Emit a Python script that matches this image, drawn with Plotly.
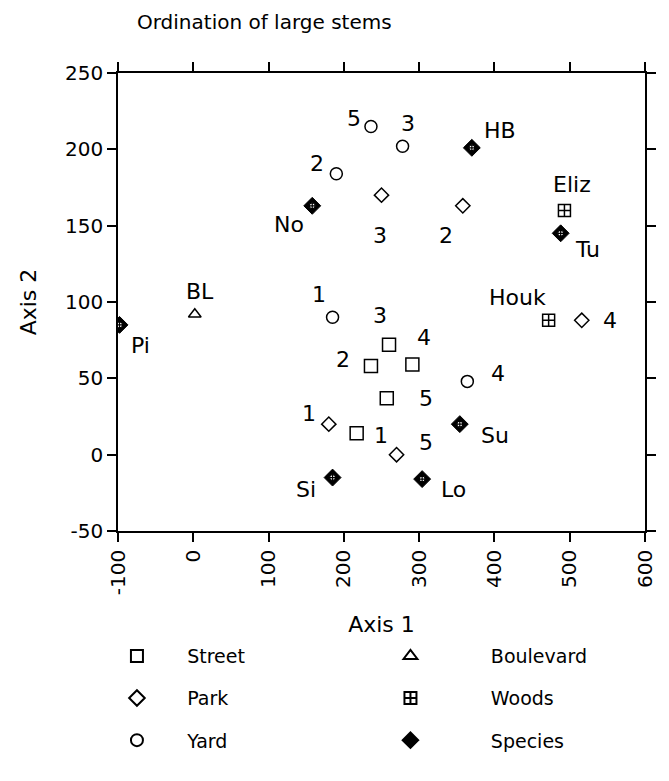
import plotly.graph_objects as go

# Ordination scores (Axis 1, Axis 2) of sites and species
street_x = [217, 236, 260, 291, 257]
street_y = [14, 58, 72, 59, 37]
street_lab = ["1", "2", "3", "4", "5"]

park_x = [180, 358, 250, 516, 270]
park_y = [20, 163, 170, 88, 0]
park_lab = ["1", "2", "3", "4", "5"]

yard_x = [185, 190, 278, 364, 236]
yard_y = [90, 184, 202, 48, 215]
yard_lab = ["1", "2", "3", "4", "5"]

boulevard_x = [2]
boulevard_y = [92]
boulevard_lab = ["BL"]

woods_x = [493, 472]
woods_y = [160, 88]
woods_lab = ["Eliz", "Houk"]

species_x = [-98, 158, 370, 488, 354, 185, 304]
species_y = [85, 163, 201, 145, 20, -15, -16]
species_lab = ["Pi", "No", "HB", "Tu", "Su", "Si", "Lo"]

x_ticks = [-100, 0, 100, 200, 300, 400, 500, 600]
x_tick_text = ["-100", "0", "100", "200", "300", "400", "500", "600"]
y_ticks = [-50, 0, 50, 100, 150, 200, 250]
y_tick_text = ["-50", "0", "50", "100", "150", "200", "250"]

# label offsets from each point, in pixels (right, up)
street_off = [(24, -2), (-28, 7), (-9, 29), (12, 27), (39, 0)]
park_off = [(-20, 11), (-17, -30), (-2, -40), (28, 0), (29, 12)]
yard_off = [(-14, 23), (-19, 10), (5, 23), (31, 8), (-17, 8)]
boulevard_off = [(5, 23)]
woods_off = [(8, 26), (-31, 23)]
species_off = [(21, -21), (-23, -19), (28, 17), (27, -16), (35, -11), (-27, -12), (31, -10)]

FONT = "DejaVu Sans"
BLACK = "#000000"
NB = "\u00a0"

fig = go.Figure()


def add_group(name, xs, ys, symbol, size, legend, width=1.5, fill=BLACK):
    fig.add_trace(go.Scatter(
        x=xs, y=ys, mode="markers", name=name, legend=legend,
        marker=dict(symbol=symbol, size=size, color=fill,
                    line=dict(color=BLACK, width=width)),
    ))


# one legend box per key so the keys sit in a two-column grid
add_group(NB * 5 + "Street", street_x, street_y, "square-open", 13, "legend")
add_group(NB * 10 + "Boulevard", boulevard_x, boulevard_y, "triangle-up-open", 11, "legend2")
add_group(NB * 5 + "Park", park_x, park_y, "diamond-open", 11, "legend3")
add_group(NB * 10 + "Woods", woods_x, woods_y, "square-cross-open", 12, "legend4")
add_group(NB * 5 + "Yard", yard_x, yard_y, "circle-open", 12, "legend5")
add_group(NB * 10 + "Species", species_x, species_y, "diamond", 13, "legend6", width=1)
# crossed centre of the species symbol
fig.add_trace(go.Scatter(
    x=species_x, y=species_y, mode="markers", showlegend=False, hoverinfo="skip",
    marker=dict(symbol="circle-cross", size=6, color="white",
                line=dict(color=BLACK, width=1.2)),
))

# point labels
for xs, ys, labs, offs in [
    (street_x, street_y, street_lab, street_off),
    (park_x, park_y, park_lab, park_off),
    (yard_x, yard_y, yard_lab, yard_off),
    (boulevard_x, boulevard_y, boulevard_lab, boulevard_off),
    (woods_x, woods_y, woods_lab, woods_off),
    (species_x, species_y, species_lab, species_off),
]:
    for x, y, t, (dx, dy) in zip(xs, ys, labs, offs):
        fig.add_annotation(x=x, y=y, text=t, showarrow=False,
                           xshift=dx, yshift=dy,
                           font=dict(family=FONT, size=22, color=BLACK))

axis_common = dict(
    showline=True, linecolor=BLACK, linewidth=1.5, mirror="ticks",
    ticks="outside", ticklen=9, tickwidth=1.5, tickcolor=BLACK,
    showgrid=False, zeroline=False,
    tickfont=dict(family=FONT, size=20, color=BLACK),
)

fig.update_xaxes(range=[-100, 600], tickvals=x_ticks, ticktext=x_tick_text, tickangle=-90,
                 title=dict(text="Axis 1", font=dict(family=FONT, size=22, color=BLACK),
                            standoff=22),
                 **axis_common)
fig.update_yaxes(range=[-50, 250], tickvals=y_ticks, ticktext=y_tick_text,
                 title=dict(text="Axis 2", font=dict(family=FONT, size=22, color=BLACK),
                            standoff=22),
                 **axis_common)

legend_common = dict(
    orientation="v", xanchor="left", yanchor="middle", itemsizing="constant",
    font=dict(family=FONT, size=19, color=BLACK), bgcolor="rgba(0,0,0,0)",
)
col_x = [-0.002, 0.517]
row_y = [-0.273, -0.365, -0.457]

fig.update_layout(
    width=669, height=781,
    margin=dict(l=118, r=21, t=73, b=250),
    paper_bgcolor="white", plot_bgcolor="white",
    title=dict(text="Ordination of large stems", x=137 / 669, xanchor="left",
               y=1 - 22 / 781, yanchor="middle",
               font=dict(family=FONT, size=20, color=BLACK)),
    legend=dict(x=col_x[0], y=row_y[0], **legend_common),
    legend2=dict(x=col_x[1], y=row_y[0], **legend_common),
    legend3=dict(x=col_x[0], y=row_y[1], **legend_common),
    legend4=dict(x=col_x[1], y=row_y[1], **legend_common),
    legend5=dict(x=col_x[0], y=row_y[2], **legend_common),
    legend6=dict(x=col_x[1], y=row_y[2], **legend_common),
    showlegend=True,
)

fig.write_html("out.html")
